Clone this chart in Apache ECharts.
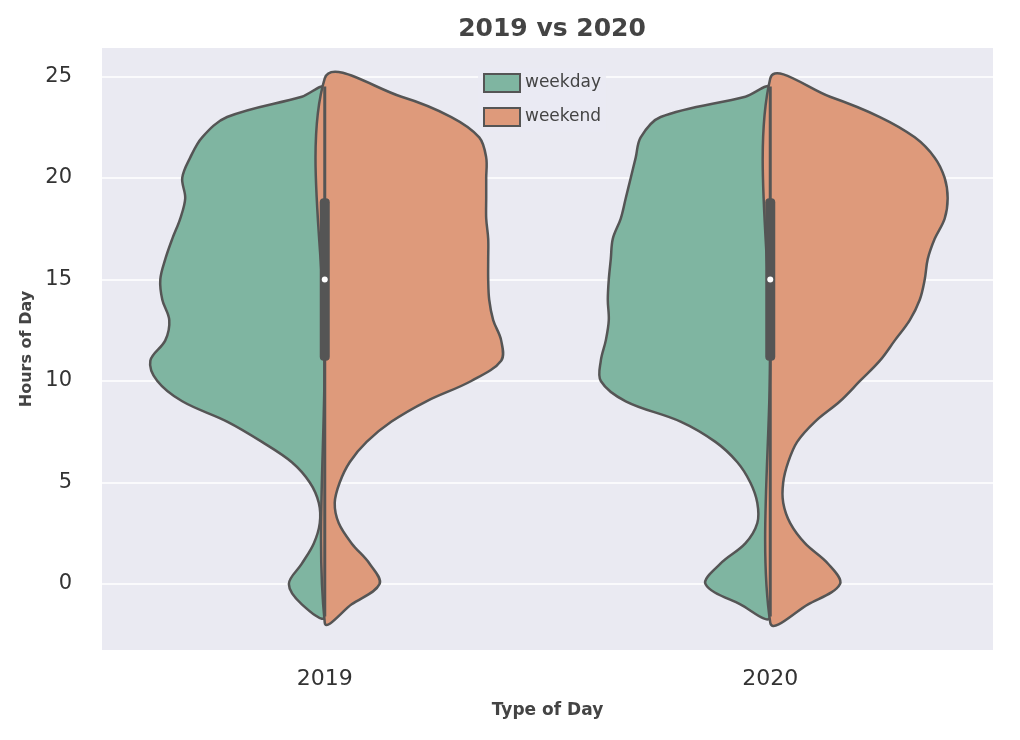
<!DOCTYPE html>
<html>
<head>
<meta charset="utf-8">
<script src="https://cdn.jsdelivr.net/npm/echarts@6/dist/echarts.min.js"></script>
<style>html,body{margin:0;padding:0;background:#fff}#chart{width:1020px;height:740px}</style>
</head>
<body>
<div id="chart"></div>
<script>
const categories = ["2019", "2020"];
const yTicks = [0, 5, 10, 15, 20, 25];
// density profile levels (hours), from top to bottom
const levels = [24, 23, 22, 21, 20, 19, 18, 17, 16, 15, 14, 13, 12, 11, 10, 9, 8, 7, 6, 5, 4, 3, 2, 1, 0, -1];
// half widths (arbitrary density units) per category
const weekday2019 = [23, 98, 123, 135, 143, 140, 145, 153, 160, 165, 163, 156, 160, 175, 168, 143, 98, 63, 33, 15, 6, 5, 11, 23, 36, 23];
const weekend2019 = [77, 127, 155, 162, 162, 162, 162, 164, 164, 164, 165, 169, 177, 177, 147, 102, 67, 42, 25, 15, 10, 14, 27, 45, 55, 27];
const weekday2020 = [25, 110, 130, 135, 140, 145, 150, 158, 160, 162, 163, 162, 165, 170, 170, 145, 90, 55, 33, 20, 13, 13, 25, 50, 65, 30];
const weekend2020 = [60, 110, 145, 165, 175, 178, 175, 165, 158, 155, 150, 140, 125, 110, 90, 70, 45, 27, 18, 13, 13, 20, 35, 58, 70, 38];
const weekdayTop = [24.4, 24.4];
const weekdayBottom = [-1.6, -1.6];
const weekendTop = [24.9, 24.9];
const weekendBottom = [-1.9, -1.9];
// box summary: whisker low/high, q1, q3, median
const boxStats = [[-1.6, 24.5, 11, 19, 15], [-1.6, 24.5, 11, 19, 15]];

const chart = echarts.init(document.getElementById("chart"));

function halfViolin(widths, tops, bottoms, side, color) {
  return function (params, api) {
    const cat = api.value(0);
    const band = api.size([1, 0])[0];
    const scale = band / 447;
    const w = widths[cat];
    const top = api.coord([cat, tops[cat]]);
    const bot = api.coord([cat, bottoms[cat]]);
    const cx = top[0];
    const pts = [top];
    levels.forEach((lv, i) => {
      const p = api.coord([cat, lv]);
      pts.push([cx + side * w[i] * scale, p[1]]);
    });
    pts.push(bot);
    pts.push([cx, (top[1] + bot[1]) / 2]);
    return {
      type: "polygon",
      shape: { points: pts, smooth: 0.35 },
      style: { fill: color, stroke: "#555", lineWidth: 2.5 },
    };
  };
}

function boxItem(params, api) {
  const cat = api.value(0);
  const s = boxStats[cat];
  const lo = api.coord([cat, s[0]]);
  const hi = api.coord([cat, s[1]]);
  const q1 = api.coord([cat, s[2]]);
  const q3 = api.coord([cat, s[3]]);
  const md = api.coord([cat, s[4]]);
  return {
    type: "group",
    children: [
      { type: "line", shape: { x1: lo[0], y1: lo[1], x2: hi[0], y2: hi[1] }, style: { stroke: "#555", lineWidth: 3 } },
      { type: "rect", shape: { x: q3[0] - 5, y: q3[1], width: 10, height: q1[1] - q3[1], r: 4 }, style: { fill: "#555" } },
      { type: "circle", shape: { cx: md[0], cy: md[1], r: 3 }, style: { fill: "#fff" } },
    ],
  };
}

const option = {
  backgroundColor: "#fff",
  textStyle: { fontFamily: "DejaVu Sans" },
  title: {
    text: "2019 vs 2020",
    left: 547,
    textAlign: "center",
    top: 12,
    textStyle: { fontSize: 25, fontWeight: "bold", color: "#444" },
  },
  legend: {
    orient: "vertical",
    left: 478,
    top: 68,
    icon: "rect",
    itemWidth: 36,
    itemHeight: 18,
    itemGap: 14,
    backgroundColor: "rgba(234,234,242,0.8)",
    textStyle: { fontSize: 17, color: "#444" },
    data: ["weekday", "weekend"],
  },
  grid: { left: 102, right: 27, top: 48, bottom: 90, show: true, backgroundColor: "#eaeaf2", borderWidth: 0 },
  xAxis: {
    type: "category",
    data: categories,
    name: "Type of Day",
    nameLocation: "middle",
    nameGap: 52,
    nameTextStyle: { fontSize: 17, fontWeight: "bold", color: "#444" },
    axisLine: { show: false },
    axisTick: { show: false },
    axisLabel: { fontSize: 22, color: "#333", margin: 18 },
  },
  yAxis: {
    type: "value",
    min: -3.25,
    max: 26.4,
    name: "Hours of Day",
    nameLocation: "middle",
    nameGap: 62,
    nameTextStyle: { fontSize: 16, fontWeight: "bold", color: "#444" },
    axisLine: { show: false },
    axisTick: { show: false, customValues: yTicks },
    axisLabel: { fontSize: 21, color: "#333", margin: 30, customValues: yTicks },
    splitLine: { show: true, lineStyle: { color: "#fff", width: 1.5 } },
  },
  series: [
    {
      name: "weekday", type: "custom", data: [[0], [1]],
      itemStyle: { color: "#7fb5a1", borderColor: "#555", borderWidth: 1.5 },
      renderItem: halfViolin([weekday2019, weekday2020], weekdayTop, weekdayBottom, -1, "#7fb5a1"),
    },
    {
      name: "weekend", type: "custom", data: [[0], [1]],
      itemStyle: { color: "#de9a7b", borderColor: "#555", borderWidth: 1.5 },
      renderItem: halfViolin([weekend2019, weekend2020], weekendTop, weekendBottom, 1, "#de9a7b"),
    },
    { type: "custom", data: [[0], [1]], renderItem: boxItem, z: 5 },
  ],
};
chart.setOption(option);
</script>
</body>
</html>
